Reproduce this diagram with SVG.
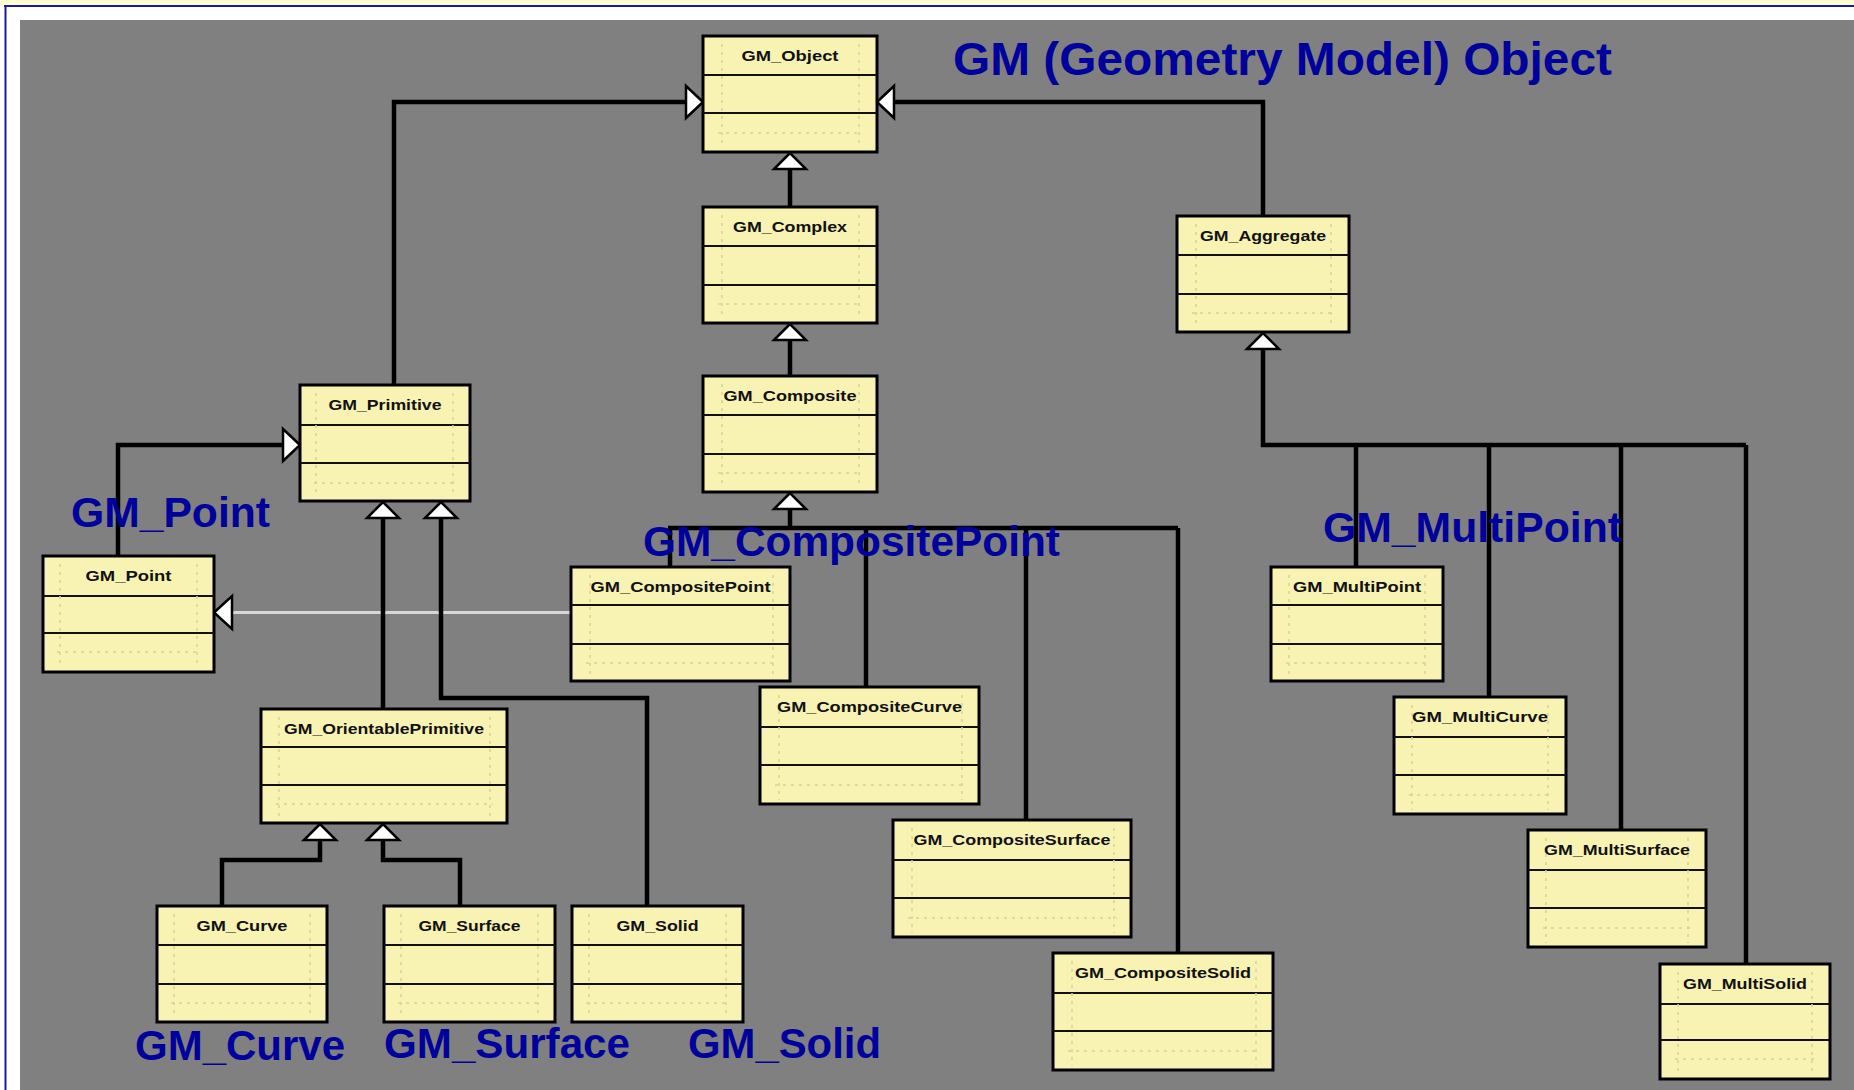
<svg xmlns="http://www.w3.org/2000/svg" width="1854" height="1090" viewBox="0 0 1854 1090">
<style>
.bg{fill:#808080}
.box{fill:#F8F3B2;stroke:#000;stroke-width:3}
.dv{stroke:#111;stroke-width:2}
.dt{stroke:#D6D19A;stroke-width:1.5;stroke-dasharray:3 5;fill:none}
.nm{font-family:"Liberation Sans",Arial,sans-serif;font-size:15px;font-weight:bold;fill:#111;text-anchor:middle}
.lbl{font-family:"Liberation Sans",Arial,sans-serif;font-size:42px;font-weight:bold;fill:#00009C}
.c{stroke:#000;stroke-width:4.5;fill:none}
.cl{stroke:#D8D8D8;stroke-width:3;fill:none}
.tri{fill:#fff;stroke:#000;stroke-width:2.5;stroke-linejoin:miter}
</style>
<rect x="0" y="0" width="1854" height="1090" fill="#fff"/>
<rect x="0" y="0" width="1854" height="5" fill="#FFFFCC"/>
<line x1="4" y1="6" x2="1854" y2="6" stroke="#1A1AA0" stroke-width="2"/>
<line x1="5.5" y1="6" x2="5.5" y2="1090" stroke="#1A1AA0" stroke-width="2"/>
<rect class="bg" x="20" y="20" width="1834" height="1070"/>

<g id="connectors">
<path class="cl" d="M571,612.5 H232"/>
<path class="c" d="M394,385 V102 H686"/>
<path class="c" d="M1263,216 V102 H894"/>
<path class="c" d="M790,207 V169"/>
<path class="c" d="M790,376 V340"/>
<path class="c" d="M790,509 V528 M668,528 H1178 M670,528 V567 M866,528 V687 M1026,528 V820 M1178,528 V953"/>
<path class="c" d="M1263,349 V445 H1746 M1356,445 V567 M1489,445 V697 M1621,445 V830 M1746,445 V964"/>
<path class="c" d="M118,556 V445 H283"/>
<path class="c" d="M383,518 V709"/>
<path class="c" d="M441,518 V698 H647 V906"/>
<path class="c" d="M320,840 V860 H222 V906"/>
<path class="c" d="M383,840 V860 H460 V906"/>
<polygon class="tri" points="703,102 686,86 686,118"/>
<polygon class="tri" points="877,102 894,86 894,118"/>
<polygon class="tri" points="790,153 774,169 806,169"/>
<polygon class="tri" points="790,324 774,340 806,340"/>
<polygon class="tri" points="790,493 774,509 806,509"/>
<polygon class="tri" points="1263,333 1247,349 1279,349"/>
<polygon class="tri" points="300,445 283,429 283,461"/>
<polygon class="tri" points="214,612.5 232,596 232,629"/>
<polygon class="tri" points="383,502 367,518 399,518"/>
<polygon class="tri" points="441,502 425,518 457,518"/>
<polygon class="tri" points="320,824 304,840 336,840"/>
<polygon class="tri" points="383,824 367,840 399,840"/>
</g>

<g id="GM_Object"><rect class="box" x="703" y="36" width="174" height="116"/><line class="dv" x1="703" y1="75" x2="877" y2="75"/><line class="dv" x1="703" y1="113" x2="877" y2="113"/><path class="dt" d="M722,44 V148 M859,44 V148 M718,133 H862"/><text class="nm" x="790" y="61" textLength="97" lengthAdjust="spacingAndGlyphs">GM_Object</text></g>
<g id="GM_Complex"><rect class="box" x="703" y="207" width="174" height="116"/><line class="dv" x1="703" y1="246" x2="877" y2="246"/><line class="dv" x1="703" y1="285" x2="877" y2="285"/><path class="dt" d="M722,215 V319 M859,215 V319 M718,304 H862"/><text class="nm" x="790" y="232" textLength="114" lengthAdjust="spacingAndGlyphs">GM_Complex</text></g>
<g id="GM_Composite"><rect class="box" x="703" y="376" width="174" height="116"/><line class="dv" x1="703" y1="415" x2="877" y2="415"/><line class="dv" x1="703" y1="454" x2="877" y2="454"/><path class="dt" d="M722,384 V488 M859,384 V488 M718,473 H862"/><text class="nm" x="790" y="401" textLength="133" lengthAdjust="spacingAndGlyphs">GM_Composite</text></g>
<g id="GM_Aggregate"><rect class="box" x="1177" y="216" width="172" height="116"/><line class="dv" x1="1177" y1="255" x2="1349" y2="255"/><line class="dv" x1="1177" y1="294" x2="1349" y2="294"/><path class="dt" d="M1196,224 V328 M1331,224 V328 M1192,313 H1334"/><text class="nm" x="1263" y="241" textLength="126" lengthAdjust="spacingAndGlyphs">GM_Aggregate</text></g>
<g id="GM_Primitive"><rect class="box" x="300" y="385" width="170" height="116"/><line class="dv" x1="300" y1="425" x2="470" y2="425"/><line class="dv" x1="300" y1="463" x2="470" y2="463"/><path class="dt" d="M316,393 V497 M453,393 V497 M314,483 H456"/><text class="nm" x="385" y="410" textLength="113" lengthAdjust="spacingAndGlyphs">GM_Primitive</text></g>
<g id="GM_Point"><rect class="box" x="43" y="556" width="171" height="116"/><line class="dv" x1="43" y1="596" x2="214" y2="596"/><line class="dv" x1="43" y1="633" x2="214" y2="633"/><path class="dt" d="M60,564 V668 M197,564 V668 M57,652 H200"/><text class="nm" x="128.5" y="581" textLength="86" lengthAdjust="spacingAndGlyphs">GM_Point</text></g>
<g id="GM_CompositePoint"><rect class="box" x="571" y="567" width="219" height="114"/><line class="dv" x1="571" y1="605" x2="790" y2="605"/><line class="dv" x1="571" y1="644" x2="790" y2="644"/><path class="dt" d="M590,575 V677 M773,575 V677 M586,663 H776"/><text class="nm" x="680.5" y="592" textLength="180" lengthAdjust="spacingAndGlyphs">GM_CompositePoint</text></g>
<g id="GM_OrientablePrimitive"><rect class="box" x="261" y="709" width="246" height="114"/><line class="dv" x1="261" y1="747" x2="507" y2="747"/><line class="dv" x1="261" y1="785" x2="507" y2="785"/><path class="dt" d="M279,717 V819 M490,717 V819 M276,804 H493"/><text class="nm" x="384" y="734" textLength="200" lengthAdjust="spacingAndGlyphs">GM_OrientablePrimitive</text></g>
<g id="GM_CompositeCurve"><rect class="box" x="760" y="687" width="219" height="117"/><line class="dv" x1="760" y1="727" x2="979" y2="727"/><line class="dv" x1="760" y1="765" x2="979" y2="765"/><path class="dt" d="M779,695 V800 M962,695 V800 M775,785 H965"/><text class="nm" x="869.5" y="712" textLength="185" lengthAdjust="spacingAndGlyphs">GM_CompositeCurve</text></g>
<g id="GM_CompositeSurface"><rect class="box" x="893" y="820" width="238" height="117"/><line class="dv" x1="893" y1="860" x2="1131" y2="860"/><line class="dv" x1="893" y1="898" x2="1131" y2="898"/><path class="dt" d="M912,828 V933 M1114,828 V933 M908,918 H1117"/><text class="nm" x="1012" y="845" textLength="197" lengthAdjust="spacingAndGlyphs">GM_CompositeSurface</text></g>
<g id="GM_CompositeSolid"><rect class="box" x="1053" y="953" width="220" height="117"/><line class="dv" x1="1053" y1="993" x2="1273" y2="993"/><line class="dv" x1="1053" y1="1031" x2="1273" y2="1031"/><path class="dt" d="M1072,961 V1066 M1256,961 V1066 M1068,1051 H1259"/><text class="nm" x="1163" y="978" textLength="176" lengthAdjust="spacingAndGlyphs">GM_CompositeSolid</text></g>
<g id="GM_Curve"><rect class="box" x="157" y="906" width="170" height="116"/><line class="dv" x1="157" y1="945" x2="327" y2="945"/><line class="dv" x1="157" y1="984" x2="327" y2="984"/><path class="dt" d="M174,914 V1018 M310,914 V1018 M171,1003 H313"/><text class="nm" x="242" y="931" textLength="91" lengthAdjust="spacingAndGlyphs">GM_Curve</text></g>
<g id="GM_Surface"><rect class="box" x="384" y="906" width="171" height="116"/><line class="dv" x1="384" y1="945" x2="555" y2="945"/><line class="dv" x1="384" y1="984" x2="555" y2="984"/><path class="dt" d="M401,914 V1018 M538,914 V1018 M398,1003 H541"/><text class="nm" x="469.5" y="931" textLength="102" lengthAdjust="spacingAndGlyphs">GM_Surface</text></g>
<g id="GM_Solid"><rect class="box" x="572" y="906" width="171" height="116"/><line class="dv" x1="572" y1="945" x2="743" y2="945"/><line class="dv" x1="572" y1="984" x2="743" y2="984"/><path class="dt" d="M589,914 V1018 M726,914 V1018 M586,1003 H729"/><text class="nm" x="657.5" y="931" textLength="82" lengthAdjust="spacingAndGlyphs">GM_Solid</text></g>
<g id="GM_MultiPoint"><rect class="box" x="1271" y="567" width="172" height="114"/><line class="dv" x1="1271" y1="605" x2="1443" y2="605"/><line class="dv" x1="1271" y1="644" x2="1443" y2="644"/><path class="dt" d="M1289,575 V677 M1425,575 V677 M1286,663 H1428"/><text class="nm" x="1357" y="592" textLength="128" lengthAdjust="spacingAndGlyphs">GM_MultiPoint</text></g>
<g id="GM_MultiCurve"><rect class="box" x="1394" y="697" width="172" height="117"/><line class="dv" x1="1394" y1="737" x2="1566" y2="737"/><line class="dv" x1="1394" y1="775" x2="1566" y2="775"/><path class="dt" d="M1412,705 V810 M1548,705 V810 M1409,795 H1551"/><text class="nm" x="1480" y="722" textLength="136" lengthAdjust="spacingAndGlyphs">GM_MultiCurve</text></g>
<g id="GM_MultiSurface"><rect class="box" x="1528" y="830" width="178" height="117"/><line class="dv" x1="1528" y1="870" x2="1706" y2="870"/><line class="dv" x1="1528" y1="908" x2="1706" y2="908"/><path class="dt" d="M1546,838 V943 M1688,838 V943 M1543,928 H1691"/><text class="nm" x="1617" y="855" textLength="146" lengthAdjust="spacingAndGlyphs">GM_MultiSurface</text></g>
<g id="GM_MultiSolid"><rect class="box" x="1660" y="964" width="170" height="115"/><line class="dv" x1="1660" y1="1004" x2="1830" y2="1004"/><line class="dv" x1="1660" y1="1040" x2="1830" y2="1040"/><path class="dt" d="M1678,972 V1075 M1812,972 V1075 M1675,1059 H1815"/><text class="nm" x="1745" y="989" textLength="124" lengthAdjust="spacingAndGlyphs">GM_MultiSolid</text></g>

<g id="labels">
<text class="lbl" x="953" y="75" font-size="47" style="font-size:47px" textLength="659" lengthAdjust="spacingAndGlyphs">GM (Geometry Model) Object</text>
<text class="lbl" x="71" y="527" textLength="199" lengthAdjust="spacingAndGlyphs">GM_Point</text>
<text class="lbl" x="643" y="556" textLength="417" lengthAdjust="spacingAndGlyphs">GM_CompositePoint</text>
<text class="lbl" x="1323" y="542" textLength="299" lengthAdjust="spacingAndGlyphs">GM_MultiPoint</text>
<text class="lbl" x="135" y="1060" textLength="210" lengthAdjust="spacingAndGlyphs">GM_Curve</text>
<text class="lbl" x="384" y="1058" textLength="246" lengthAdjust="spacingAndGlyphs">GM_Surface</text>
<text class="lbl" x="688" y="1058" textLength="193" lengthAdjust="spacingAndGlyphs">GM_Solid</text>
</g>
</svg>
